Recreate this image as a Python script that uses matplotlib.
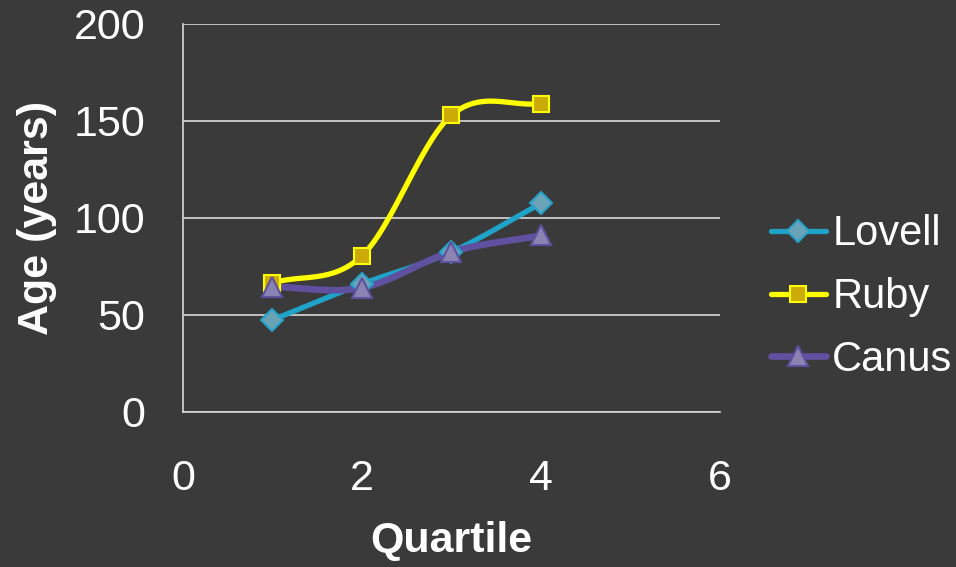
import numpy as np
import matplotlib
matplotlib.use("Agg")
import matplotlib.pyplot as plt
from matplotlib.lines import Line2D

plt.rcParams['font.family'] = ['Liberation Sans', 'DejaVu Sans']

quartile = [1, 2, 3, 4]
lovell = [47.5, 66, 82.5, 107.5]
ruby = [66.5, 80.5, 153, 159]
canus = [64.5, 64, 82.5, 91]

BG = '#3a3a3a'


def smooth(xs, ys, n=40):
    # Catmull-Rom curve through the points, like a spreadsheet "smoothed line"
    xs = np.asarray(xs, float)
    ys = np.asarray(ys, float)
    px = np.concatenate([[2 * xs[0] - xs[1]], xs, [2 * xs[-1] - xs[-2]]])
    py = np.concatenate([[2 * ys[0] - ys[1]], ys, [2 * ys[-1] - ys[-2]]])
    ox, oy = [], []
    t = np.linspace(0, 1, n)
    for i in range(1, len(px) - 2):
        for p, out in ((px, ox), (py, oy)):
            p0, p1, p2, p3 = p[i - 1], p[i], p[i + 1], p[i + 2]
            out.extend(0.5 * ((2 * p1) + (-p0 + p2) * t
                              + (2 * p0 - 5 * p1 + 4 * p2 - p3) * t ** 2
                              + (-p0 + 3 * p1 - 3 * p2 + p3) * t ** 3))
    return ox, oy


fig = plt.figure(figsize=(9.56, 5.67), dpi=100, facecolor=BG)
ax = fig.add_axes([0.1914, 0.2734, 0.5617, 0.6843], facecolor=BG)

series = [
    ('Lovell', lovell, '#1fa3c9', 'D', '#6aa3b8', '#26a2c8', 11, 3.8),
    ('Ruby', ruby, '#ffff00', 's', '#cdab05', '#ffff00', 12, 3.8),
    ('Canus', canus, '#5f50a0', '^', '#8b84b2', '#5f50a0', 14, 4.8),
]

handles = []
for name, vals, lc, mk, mfc, mec, ms, lw in series:
    sx, sy = smooth(quartile, vals)
    ax.plot(sx, sy, color=lc, lw=lw, solid_capstyle='round', zorder=3)
    ax.plot(quartile, vals, ls='none', marker=mk, ms=ms, mfc=mfc,
            mec=mec, mew=1.5, zorder=4)
    handles.append(Line2D([], [], color=lc, lw=lw, marker=mk, ms=ms,
                          mfc=mfc, mec=mec, mew=1.5, label=name,
                          solid_capstyle='round'))

ax.set_xlim(0, 6)
ax.set_ylim(0, 200)
ax.set_xticks([0, 2, 4, 6])
ax.set_yticks([0, 50, 100, 150, 200])
ax.grid(axis='y', color='#d9d9d9', lw=1.2)
ax.set_axisbelow(True)
for s in ['top', 'right']:
    ax.spines[s].set_visible(False)
for s in ['left', 'bottom']:
    ax.spines[s].set_color('#d9d9d9')
    ax.spines[s].set_linewidth(1.2)
ax.tick_params(length=0, labelsize=31, colors='white', pad=27)
ax.tick_params(axis='x', pad=34)

ax.set_xlabel('Quartile', fontsize=31, fontweight='bold', color='white',
              labelpad=16)
ax.set_ylabel('Age (years)', fontsize=31, fontweight='bold', color='white',
              labelpad=12)

leg = fig.legend(handles=handles, loc='center left',
                 bbox_to_anchor=(0.806, 0.476), frameon=False,
                 fontsize=30, labelcolor='white', handlelength=1.33,
                 handletextpad=0.15, labelspacing=0.55, borderaxespad=0,
                 borderpad=0)

fig.savefig('out.png', dpi=100, facecolor=BG)
